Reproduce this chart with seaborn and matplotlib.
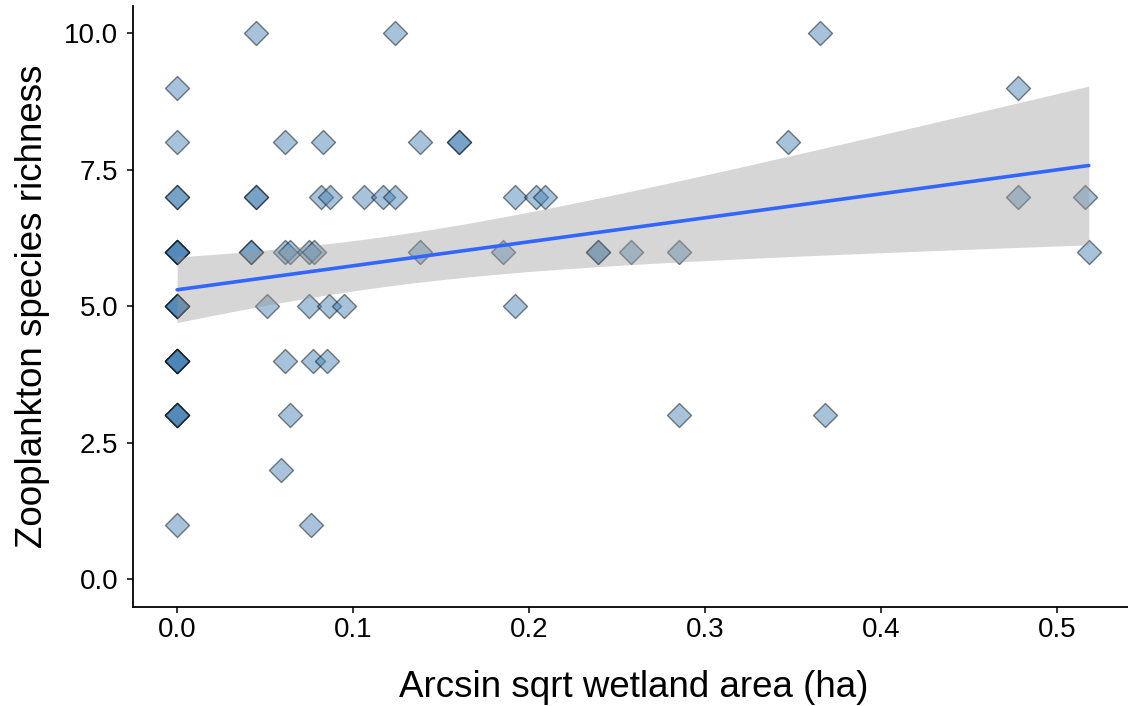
import numpy as np
import pandas as pd
import matplotlib
matplotlib.use("Agg")
import matplotlib.pyplot as plt
import seaborn as sns

# ---- data ----
wetland_area = [
    0.045, 0.124, 0.365,                                   # richness 10
    0.0, 0.478,                                            # 9
    0.0, 0.061, 0.083, 0.138, 0.160, 0.160, 0.347,         # 8
    0.0, 0.0, 0.045, 0.045, 0.082, 0.087, 0.106, 0.117,
    0.124, 0.192, 0.204, 0.209, 0.478, 0.516,              # 7
    0.0, 0.0, 0.0, 0.0, 0.042, 0.042, 0.061, 0.064, 0.075,
    0.078, 0.138, 0.185, 0.239, 0.239, 0.258, 0.285, 0.518,  # 6
    0.0, 0.0, 0.0, 0.0, 0.051, 0.075, 0.086, 0.095, 0.192,  # 5
    0.0, 0.0, 0.0, 0.0, 0.0, 0.061, 0.077, 0.085,          # 4
    0.0, 0.0, 0.0, 0.0, 0.064, 0.285, 0.368,               # 3
    0.059,                                                 # 2
    0.0, 0.076,                                            # 1
]
richness = (
    [10] * 3 + [9] * 2 + [8] * 7 + [7] * 14 + [6] * 17 +
    [5] * 9 + [4] * 8 + [3] * 7 + [2] * 1 + [1] * 2
)
x_ticks = [0.0, 0.1, 0.2, 0.3, 0.4, 0.5]
x_tick_labels = ["0.0", "0.1", "0.2", "0.3", "0.4", "0.5"]
y_ticks = [0.0, 2.5, 5.0, 7.5, 10.0]
y_tick_labels = ["0.0", "2.5", "5.0", "7.5", "10.0"]
x_label = "Arcsin sqrt wetland area (ha)"
y_label = "Zooplankton species richness"

df = pd.DataFrame({"area": wetland_area, "richness": richness})

sns.set_theme(style="ticks")
plt.rcParams["font.family"] = ["Liberation Sans", "DejaVu Sans"]

fig = plt.figure(figsize=(11.28, 7.06), dpi=100)
# the right end of the panel runs slightly past the image edge, as in the reference
ax = fig.add_axes([0.1176, 0.1406, 0.8882, 0.992 - 0.1406])

sns.scatterplot(data=df, x="area", y="richness", marker="D", s=150,
                color="#4682B4", alpha=0.48, edgecolor="black",
                linewidth=1.0, ax=ax, zorder=2)

# linear-model 95% confidence band (as ggplot's geom_smooth(method="lm"))
x = df["area"].to_numpy(float)
y = df["richness"].to_numpy(float)
n = len(x)
slope, intercept = np.polyfit(x, y, 1)
resid = y - (intercept + slope * x)
s_err = np.sqrt(np.sum(resid ** 2) / (n - 2))
xg = np.linspace(x.min(), x.max(), 100)
sxx = np.sum((x - x.mean()) ** 2)
t_crit = 1.997
half = t_crit * s_err * np.sqrt(1.0 / n + (xg - x.mean()) ** 2 / sxx)
yfit = intercept + slope * xg
ax.fill_between(xg, yfit - half, yfit + half, color="#999999", alpha=0.4,
                linewidth=0, zorder=3)

sns.regplot(data=df, x="area", y="richness", scatter=False, ci=None,
            color="#3366FF", line_kws={"linewidth": 2.6, "zorder": 4},
            ax=ax)

ax.set_xlim(-0.0253, 0.5440)
ax.set_ylim(-0.5, 10.5)
ax.set_xticks(x_ticks)
ax.set_xticklabels(x_tick_labels)
ax.set_yticks(y_ticks)
ax.set_yticklabels(y_tick_labels)
ax.set_xlabel(x_label, fontsize=26.5, color="black", labelpad=19)
ax.set_ylabel(y_label, fontsize=26.5, color="black", labelpad=10)
ax.tick_params(axis="both", labelsize=20, colors="black", length=4.5,
               width=1.1)
ax.tick_params(axis="x", pad=3)
ax.tick_params(axis="y", pad=6)
sns.despine(ax=ax)
for side in ["left", "bottom"]:
    ax.spines[side].set_linewidth(1.3)
    ax.spines[side].set_color("black")
ax.grid(False)

fig.savefig("out.png", dpi=100)
